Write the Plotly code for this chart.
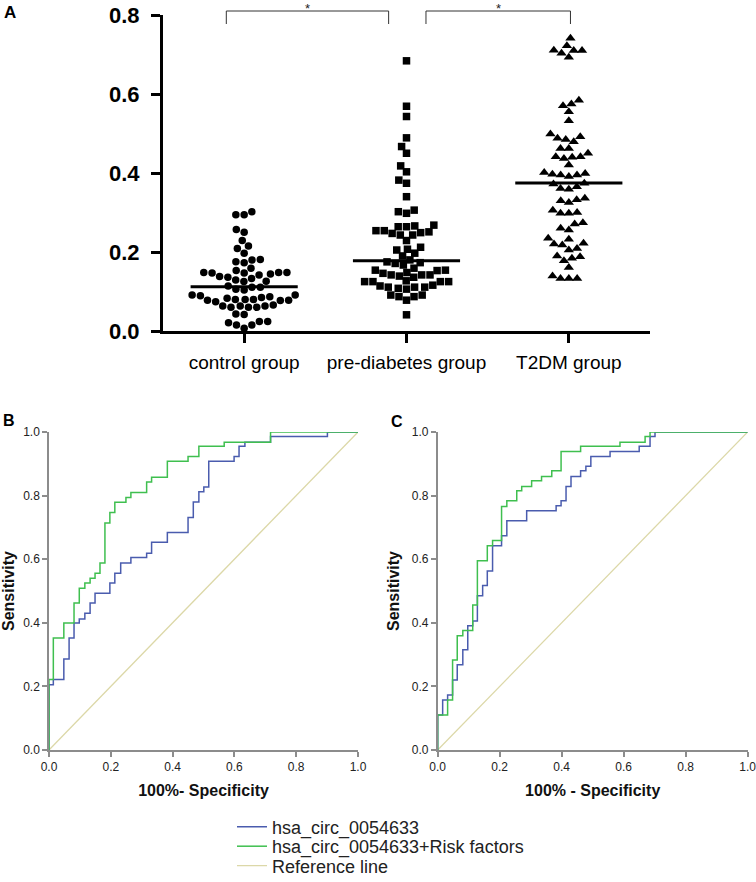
import math
import plotly.graph_objects as go

# ---------------- data ----------------
groups = ["control group", "pre-diabetes group", "T2DM group"]

control_vals = [0.302, 0.294, 0.294, 0.257, 0.250, 0.229, 0.215, 0.209, 0.197,
                0.181, 0.173, 0.175, 0.180, 0.159, 0.153,
                0.148, 0.148, 0.147, 0.144, 0.136, 0.129, 0.125, 0.126, 0.133, 0.138, 0.142, 0.147, 0.148,
                0.114, 0.111, 0.111, 0.106, 0.104,
                0.091, 0.089, 0.085, 0.080, 0.074, 0.078, 0.077, 0.080, 0.078, 0.080, 0.083, 0.087, 0.091,
                0.066, 0.063, 0.063, 0.063, 0.060, 0.060, 0.060,
                0.043, 0.042,
                0.024, 0.015, 0.007, 0.015, 0.021, 0.024]

prediabetes_vals = [0.684, 0.569, 0.543, 0.489, 0.467, 0.450, 0.418, 0.403, 0.382, 0.374, 0.340,
                    0.302, 0.298, 0.306, 0.268,
                    0.266, 0.264, 0.254, 0.249, 0.243, 0.243, 0.229, 0.247, 0.251, 0.254, 0.264,
                    0.212, 0.205, 0.207,
                    0.190, 0.197, 0.180, 0.175, 0.171, 0.167, 0.173,
                    0.154, 0.159, 0.153, 0.154, 0.148, 0.142, 0.139, 0.142, 0.136, 0.142, 0.146,
                    0.127, 0.125, 0.116, 0.111, 0.106, 0.111, 0.111, 0.108, 0.114, 0.125, 0.125, 0.125,
                    0.091, 0.087, 0.078, 0.087, 0.091,
                    0.041]

t2dm_vals = [0.741,
             0.711, 0.710, 0.722, 0.703, 0.693, 0.710,
             0.575, 0.584, 0.570, 0.555, 0.532,
             0.492, 0.485, 0.479, 0.488, 0.499, 0.462, 0.462,
             0.441, 0.437, 0.450, 0.440, 0.441, 0.420,
             0.399, 0.395, 0.391, 0.395, 0.397, 0.401,
             0.372, 0.361, 0.359, 0.365, 0.374,
             0.332, 0.325, 0.330, 0.336,
             0.306, 0.298, 0.298, 0.300,
             0.271, 0.256, 0.260, 0.274,
             0.232, 0.222, 0.218, 0.220, 0.235, 0.209, 0.205,
             0.184, 0.188, 0.190, 0.178, 0.161,
             0.133, 0.133, 0.133, 0.139]

medians = [0.112, 0.178, 0.375]

# ROC curves (1 - specificity, sensitivity), step points
B_blue_fpr = [0, 0, 0.014, 0.048, 0.065, 0.081, 0.098, 0.116, 0.133, 0.149,
              0.197, 0.213, 0.232, 0.265, 0.316, 0.332, 0.383, 0.450, 0.467, 0.485,
              0.501, 0.517, 0.599, 0.615, 0.634, 0.717, 0.901, 1.0]
B_blue_tpr = [0, 0.205, 0.222, 0.286, 0.352, 0.399, 0.412, 0.430, 0.462, 0.493,
              0.525, 0.556, 0.588, 0.605, 0.619, 0.653, 0.684, 0.731, 0.780, 0.812,
              0.827, 0.908, 0.923, 0.955, 0.968, 0.986, 1.0, 1.0]
B_green_fpr = [0, 0, 0.014, 0.048, 0.081, 0.098, 0.116, 0.133, 0.149, 0.165,
               0.181, 0.197, 0.213, 0.249, 0.265, 0.316, 0.332, 0.383, 0.450, 0.485,
               0.567, 0.717, 1.0]
B_green_tpr = [0, 0.222, 0.352, 0.399, 0.462, 0.509, 0.525, 0.540, 0.556, 0.588,
               0.714, 0.747, 0.779, 0.794, 0.810, 0.843, 0.858, 0.908, 0.923, 0.955,
               0.968, 1.0, 1.0]
C_blue_fpr = [0, 0, 0.016, 0.032, 0.048, 0.063, 0.081, 0.097, 0.113, 0.128,
              0.145, 0.160, 0.177, 0.206, 0.223, 0.287, 0.382, 0.398, 0.414, 0.430,
              0.461, 0.478, 0.494, 0.556, 0.650, 0.685, 0.701, 1.0]
C_blue_tpr = [0, 0.110, 0.157, 0.173, 0.220, 0.268, 0.315, 0.391, 0.406, 0.485,
              0.517, 0.563, 0.642, 0.674, 0.721, 0.752, 0.768, 0.784, 0.829, 0.860,
              0.878, 0.892, 0.923, 0.939, 0.955, 0.986, 1.0, 1.0]
C_green_fpr = [0, 0, 0.032, 0.048, 0.063, 0.081, 0.113, 0.128, 0.160, 0.177,
               0.206, 0.223, 0.255, 0.271, 0.303, 0.335, 0.368, 0.398, 0.461, 0.588,
               0.669, 0.685, 1.0]
C_green_tpr = [0, 0.110, 0.157, 0.283, 0.359, 0.376, 0.456, 0.595, 0.642, 0.659,
               0.766, 0.784, 0.815, 0.829, 0.847, 0.860, 0.878, 0.939, 0.955, 0.968,
               0.986, 1.0, 1.0]
ref_line = [0, 1]

series_names = ["hsa_circ_0054633", "hsa_circ_0054633+Risk factors", "Reference line"]
BLUE, GREEN, TAN = "#4a5cae", "#3fbf4f", "#dcd8a8"

# ---------------- layout geometry ----------------
W, H = 756, 882
def px(x): return x / W
def py(y): return 1 - y / H

X_PX_PER_UNIT = 162.0   # panel A: pixels per category step
Y_PX_PER_UNIT = 395.0   # panel A: pixels per value unit


def beeswarm(vals, d):
    """Greedy beeswarm offsets (category units) so markers of diameter d px don't overlap."""
    order = sorted(range(len(vals)), key=lambda i: vals[i])
    placed = []
    offs = [0.0] * len(vals)
    for i in order:
        y = vals[i] * Y_PX_PER_UNIT
        cands = [0.0]
        for (px_, py_) in placed:
            dy = abs(py_ - y)
            if dy < d:
                dx = math.sqrt(d * d - dy * dy)
                cands += [px_ + dx, px_ - dx]
        cands.sort(key=lambda c: (abs(c), c))
        for c in cands:
            if all((c - a) ** 2 + (y - b) ** 2 >= d * d - 1e-6 for a, b in placed):
                placed.append((c, y))
                offs[i] = c / X_PX_PER_UNIT
                break
    return offs


fig = go.Figure()

symbols = ["circle", "square", "triangle-up"]
sizes = [7.5, 7.5, 9]
all_vals = [control_vals, prediabetes_vals, t2dm_vals]
for gi, vals in enumerate(all_vals):
    offs = beeswarm(vals, 8.3)
    fig.add_trace(go.Scatter(
        x=[gi + o for o in offs], y=vals, mode="markers",
        marker=dict(symbol=symbols[gi], size=sizes[gi], color="black", line=dict(width=0)),
        showlegend=False, cliponaxis=False, xaxis="x", yaxis="y"))
    fig.add_trace(go.Scatter(
        x=[gi - 0.33, gi + 0.33], y=[medians[gi], medians[gi]], mode="lines",
        line=dict(color="black", width=3), showlegend=False, xaxis="x", yaxis="y"))

# ROC panel B
fig.add_trace(go.Scatter(x=ref_line, y=ref_line, mode="lines", line=dict(color=TAN, width=1.3),
                         name=series_names[2], legend="legend3", xaxis="x2", yaxis="y2"))
fig.add_trace(go.Scatter(x=B_blue_fpr, y=B_blue_tpr, mode="lines", line=dict(color=BLUE, width=1.5, shape="hv"),
                         name=series_names[0], legend="legend", xaxis="x2", yaxis="y2", cliponaxis=False))
fig.add_trace(go.Scatter(x=B_green_fpr, y=B_green_tpr, mode="lines", line=dict(color=GREEN, width=1.5, shape="hv"),
                         name=series_names[1], legend="legend2", xaxis="x2", yaxis="y2", cliponaxis=False))
# ROC panel C
fig.add_trace(go.Scatter(x=ref_line, y=ref_line, mode="lines", line=dict(color=TAN, width=1.3),
                         showlegend=False, xaxis="x3", yaxis="y3"))
fig.add_trace(go.Scatter(x=C_blue_fpr, y=C_blue_tpr, mode="lines", line=dict(color=BLUE, width=1.5, shape="hv"),
                         showlegend=False, xaxis="x3", yaxis="y3", cliponaxis=False))
fig.add_trace(go.Scatter(x=C_green_fpr, y=C_green_tpr, mode="lines", line=dict(color=GREEN, width=1.5, shape="hv"),
                         showlegend=False, xaxis="x3", yaxis="y3", cliponaxis=False))

FONT = "Liberation Sans, Arial, sans-serif"
GREY = "#8c8c8c"

roc_axis = dict(range=[0, 1], tickvals=[0, 0.2, 0.4, 0.6, 0.8, 1.0], tickformat=".1f",
                showline=True, linecolor=GREY, linewidth=1.5, ticks="outside", ticklen=5,
                tickcolor=GREY, tickwidth=1.5, showgrid=False, zeroline=False, automargin=False,
                ticklabeloverflow="allow",
                tickfont=dict(family=FONT, size=12, color="#222"), fixedrange=True)
title_font = dict(family=FONT, size=16, color="#111", weight="bold")

legend_common = dict(x=px(232), xanchor="left", yanchor="middle", bgcolor="rgba(0,0,0,0)",
                     font=dict(family=FONT, size=18, color="#222"), borderwidth=0)

fig.update_layout(
    template="none",
    width=W, height=H, margin=dict(l=0, r=0, t=0, b=0, autoexpand=False),
    paper_bgcolor="white", plot_bgcolor="white",
    font=dict(family=FONT, color="black"),
    xaxis=dict(domain=[px(163), px(650)], range=[-0.5, 2.5], tickvals=[0, 1, 2], ticktext=groups,
               showline=True, linecolor="black", linewidth=3, ticks="outside", ticklen=9,
               tickwidth=3, tickcolor="black", showgrid=False, zeroline=False, automargin=False,
               ticklabelstandoff=3,
               tickfont=dict(family=FONT, size=19, color="black"), anchor="y"),
    yaxis=dict(domain=[py(331), py(15)], range=[0, 0.8], tickvals=[0, 0.2, 0.4, 0.6, 0.8],
               tickformat=".1f", showline=True, linecolor="black", linewidth=3, ticks="outside",
               ticklen=9, tickwidth=3, tickcolor="black", showgrid=False, zeroline=False,
               automargin=False, ticklabelstandoff=7,
               tickfont=dict(family=FONT, size=22, color="black", weight="bold"), anchor="x"),
    xaxis2=dict(roc_axis, domain=[px(49), px(358)], anchor="y2",
                title=dict(text="100%- Specificity", font=title_font, standoff=12)),
    yaxis2=dict(roc_axis, domain=[py(750), py(432)], anchor="x2",
                title=dict(text="Sensitivity", font=title_font, standoff=8)),
    xaxis3=dict(roc_axis, domain=[px(437.7), px(747.7)], anchor="y3",
                title=dict(text="100% - Specificity", font=title_font, standoff=12)),
    yaxis3=dict(roc_axis, domain=[py(750), py(432)], anchor="x3",
                title=dict(text="Sensitivity", font=title_font, standoff=8)),
    legend=dict(legend_common, y=py(827)),
    legend2=dict(legend_common, y=py(846.5)),
    legend3=dict(legend_common, y=py(866)),
)

# significance brackets
bracket_y_top, bracket_y_bot = py(11), py(24)
for (xa, xb) in [(-0.11, 0.89), (1.12, 2.01)]:
    fig.add_shape(type="path", xref="x", yref="paper",
                  path=f"M {xa},{bracket_y_bot} L {xa},{bracket_y_top} L {xb},{bracket_y_top} L {xb},{bracket_y_bot}",
                  line=dict(color="#333", width=1))
    fig.add_annotation(x=(xa + xb) / 2, y=py(8), xref="x", yref="paper", text="*", showarrow=False,
                       xanchor="center", yanchor="middle",
                       font=dict(family=FONT, size=13, color="#222"))

# panel labels
for lab, x, y, s in [("A", 10, 12.5, 17), ("B", 9, 420, 16), ("C", 397, 421, 16)]:
    fig.add_annotation(x=px(x), y=py(y), xref="paper", yref="paper", text=lab, showarrow=False,
                       xanchor="center", yanchor="middle",
                       font=dict(family=FONT, size=s, color="black", weight="bold"))

fig.write_html("out.html", config={"displayModeBar": False},
               post_script="document.body.style.margin='0';")
